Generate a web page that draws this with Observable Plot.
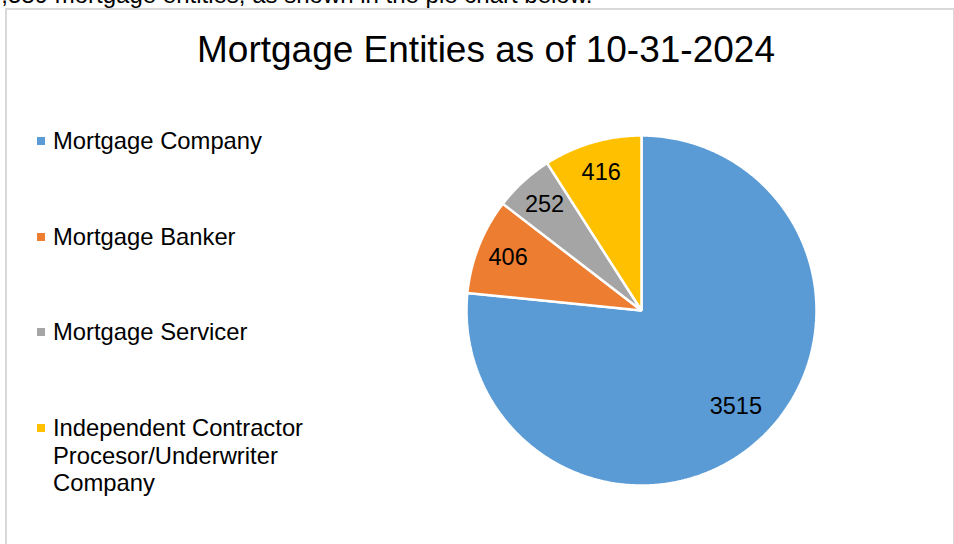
<!DOCTYPE html>
<html>
<head>
<meta charset="utf-8">
<script src="https://cdn.jsdelivr.net/npm/d3@7"></script>
<script src="https://cdn.jsdelivr.net/npm/@observablehq/plot@0.6"></script>
<style>
  html, body { margin: 0; padding: 0; background: #fff; }
  body { width: 954px; height: 544px; position: relative; overflow: hidden;
         font-family: "Liberation Sans", Arial, sans-serif; color: #000; }
  #intro { position: absolute; left: -12px; top: -17px; font-size: 24px; line-height: 24px; white-space: nowrap; }
  #frame { position: absolute; left: 5px; top: 8px; width: 946px; height: 600px;
           border: 2px solid #d9d9d9; background: #fff; }
  #title { position: absolute; left: 0; width: 972px; top: 30px; text-align: center;
           font-size: 37px; line-height: 40px; white-space: nowrap; }
  #chart { position: absolute; left: 0; top: 0; }
  #legend { position: absolute; left: 0; top: 0; }
  .item { position: absolute; left: 53px; font-size: 23.8px; line-height: 27.5px; white-space: nowrap; }
  .swatch { position: absolute; left: -16px; top: 10px; width: 8px; height: 8px; }
</style>
</head>
<body>
<div id="intro">4,589 mortgage entities, as shown in the pie chart below.</div>
<div id="frame"></div>
<div id="chart"></div>
<div id="title"></div>
<div id="legend"></div>
<script>
const titleText = "Mortgage Entities as of 10-31-2024";
const categories = ["Mortgage Company", "Mortgage Banker", "Mortgage Servicer", "Independent Contractor Procesor/Underwriter Company"];
const legendLines = [["Mortgage Company"], ["Mortgage Banker"], ["Mortgage Servicer"], ["Independent Contractor", "Procesor/Underwriter", "Company"]];
const values = [3515, 406, 252, 416];
const colors = ["#5B9BD5", "#ED7D31", "#A5A5A5", "#FFC000"];

document.getElementById("title").textContent = titleText;

const data = categories.map((c, i) => ({name: c, value: values[i]}));
const arcs = d3.pie().sort(null).value(d => d.value)(data);

// polygon outline of each slice in unit-circle coordinates (angle measured clockwise from 12 o'clock)
const pts = [];
for (const a of arcs) {
  const n = Math.max(2, Math.ceil((a.endAngle - a.startAngle) / (Math.PI / 360)));
  pts.push({name: a.data.name, x: 0, y: 0});
  for (let k = 0; k <= n; k++) {
    const t = a.startAngle + (a.endAngle - a.startAngle) * k / n;
    pts.push({name: a.data.name, x: Math.sin(t), y: Math.cos(t)});
  }
}
const labels = arcs.map(a => {
  const big = a.data.value / d3.sum(values) > 0.5;
  const m = (a.startAngle + a.endAngle) / 2 - (big ? 0.04 : 0);
  const r = big ? 0.77 : 0.82;
  return {name: a.data.name, value: a.data.value, x: r * Math.sin(m), y: r * Math.cos(m)};
});

const plot = Plot.plot({
  width: 954,
  height: 544,
  marginLeft: 466,
  marginRight: 138,
  marginTop: 135,
  marginBottom: 59,
  x: {domain: [-1, 1], axis: null},
  y: {domain: [-1, 1], axis: null},
  color: {domain: categories, range: colors},
  style: {background: "transparent", fontFamily: "'Liberation Sans', Arial, sans-serif"},
  marks: [
    Plot.line(pts, {x: "x", y: "y", z: "name", fill: "name", stroke: "white", strokeWidth: 2.5, strokeLinejoin: "miter", curve: "linear-closed"}),
    Plot.text(labels, {x: "x", y: "y", text: d => String(d.value), fill: "black", fontSize: 23.5})
  ]
});
document.getElementById("chart").appendChild(plot);

const legend = document.getElementById("legend");
const tops = [127, 223, 318, 414];
legendLines.forEach((lines, i) => {
  const div = document.createElement("div");
  div.className = "item";
  div.style.top = tops[i] + "px";
  const sw = document.createElement("div");
  sw.className = "swatch";
  sw.style.background = colors[i];
  div.appendChild(sw);
  lines.forEach((l, j) => {
    if (j) div.appendChild(document.createElement("br"));
    div.appendChild(document.createTextNode(l));
  });
  legend.appendChild(div);
});
</script>
</body>
</html>
